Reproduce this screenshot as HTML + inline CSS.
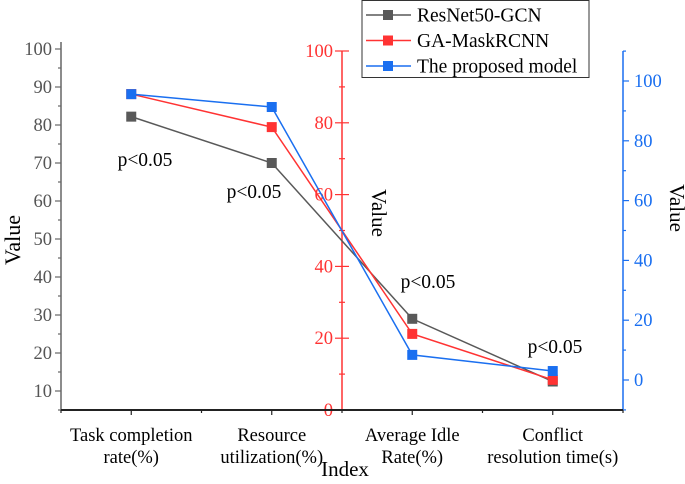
<!DOCTYPE html>
<html><head><meta charset="utf-8"><style>
body{margin:0;background:#fff}
svg{font-family:"Liberation Serif",serif}
</style></head><body>
<svg id="c" width="685" height="479" viewBox="0 0 685 479" xmlns="http://www.w3.org/2000/svg"></svg>
<script>
const categories=[["Task completion","rate(%)"],["Resource","utilization(%)"],["Average Idle","Rate(%)"],["Conflict","resolution time(s)"]];
const resnet=[82.2,70,29,12.5];
const gamask=[88,78.8,21.2,8.4];
const proposed=[95.6,91.3,8.4,3];
const leftTicks=[10,20,30,40,50,60,70,80,90,100];
const redTicks=[0,20,40,60,80,100];
const blueTicks=[0,20,40,60,80,100];
const pLabels=["p<0.05","p<0.05","p<0.05","p<0.05"];

const svg=document.getElementById('c');
const NS='http://www.w3.org/2000/svg';
function mk(t,a,parent){const e=document.createElementNS(NS,t);for(const k in a)e.setAttribute(k,a[k]);(parent||svg).appendChild(e);return e;}
const X0=61,X1=623,B=410;
const xs=i=>X0+(i+0.5)*(X1-X0)/categories.length;
const yL=v=>B-(v-5)*3.8;
const yR=v=>B-v*3.59;
const yB=v=>380-v*2.99;

// left axis
let e=mk('line',{x1:X0,y1:42,x2:X0,y2:B,stroke:'#666','stroke-width':1.5});

for(let v=5;v<=100;v+=5){mk('line',{x1:X0-(v%10?3:6),y1:yL(v),x2:X0,y2:yL(v),stroke:'#666','stroke-width':1.2});}
leftTicks.forEach(v=>{const t=mk('text',{x:X0-9,y:yL(v)+6,'text-anchor':'end','font-size':18.5,fill:'#555'});t.textContent=v;
});
e=mk('text',{x:20,y:240,'font-size':22,'text-anchor':'middle',transform:'rotate(-90 20 240)'});e.textContent='Value';


// red axis
const RX=342;
e=mk('line',{x1:RX,y1:51,x2:RX,y2:B,stroke:'#f33','stroke-width':1.5});

for(let v=0;v<=100;v+=10){mk('line',{x1:RX-(v%20?3:7),y1:yR(v),x2:RX+(v%20?3:7),y2:yR(v),stroke:'#f33','stroke-width':1.2});}
redTicks.forEach(v=>{const t=mk('text',{x:RX-9,y:yR(v)+6,'text-anchor':'end','font-size':18.5,fill:'#f33'});t.textContent=v;
});
e=mk('text',{x:372,y:213,'font-size':21,'text-anchor':'middle',transform:'rotate(90 372 213)'});e.textContent='Value';


// blue axis
e=mk('line',{x1:X1,y1:51,x2:X1,y2:B,stroke:'#1a6ff0','stroke-width':1.5});

for(let v=-10;v<=110;v+=10){mk('line',{x1:X1,y1:yB(v),x2:X1+(v%20?3:6),y2:yB(v),stroke:'#1a6ff0','stroke-width':1.2});}
blueTicks.forEach(v=>{const t=mk('text',{x:X1+11,y:yB(v)+6,'font-size':18.5,fill:'#1a6ff0'});t.textContent=v;
});
e=mk('text',{x:670,y:208,'font-size':21,'text-anchor':'middle',transform:'rotate(90 670 208)'});e.textContent='Value';


// x axis
e=mk('line',{x1:X0,y1:B,x2:X1,y2:B,stroke:'#222','stroke-width':2});

for(let i=0;i<=categories.length*2;i++){const x=X0+i*(X1-X0)/(categories.length*2);mk('line',{x1:x,y1:B,x2:x,y2:B+(i%2?5:3),stroke:'#222','stroke-width':1.2});}
categories.forEach((c,i)=>{c.forEach((ln,j)=>{const t=mk('text',{x:xs(i),y:441+j*22,'text-anchor':'middle','font-size':18.5});t.textContent=ln;
});});
e=mk('text',{x:345,y:476,'text-anchor':'middle','font-size':21});e.textContent='Index';


// series
function series(vals,f,color,name){
 const g=mk('g',{});
 mk('polyline',{points:vals.map((v,i)=>xs(i)+','+f(v)).join(' '),fill:'none',stroke:color,'stroke-width':1.5},g);
 vals.forEach((v,i)=>{const r=mk('rect',{x:xs(i)-5,y:f(v)-5,width:10,height:10,fill:color},g);
 });
}
series(resnet,yL,'#595959','series-resnet50-gcn');
series(gamask,yR,'#f33','series-ga-maskrcnn');
series(proposed,yB,'#1a6ff0','series-proposed-model');

// p labels
const pPos=[[145,166],[254,198],[428,288],[555,353]];
pLabels.forEach((s,i)=>{const t=mk('text',{x:pPos[i][0],y:pPos[i][1],'text-anchor':'middle','font-size':19.5});t.textContent=s;
});

// legend
const lg=mk('g',{});
mk('rect',{x:362,y:0.5,width:227,height:77,fill:'#fff',stroke:'#333','stroke-width':1},lg);
[['ResNet50-GCN','#595959'],['GA-MaskRCNN','#f33'],['The proposed model','#1a6ff0']].forEach((d,i)=>{
 const y=15+i*25.5;
 const g=mk('g',{},lg);
 mk('line',{x1:366,y1:y,x2:411,y2:y,stroke:d[1],'stroke-width':1.5},g);
 mk('rect',{x:383,y:y-5,width:10,height:10,fill:d[1]},g);
 const t=mk('text',{x:417,y:y+6.5,'font-size':19.5},g);t.textContent=d[0];
});
</script>
</body></html>
